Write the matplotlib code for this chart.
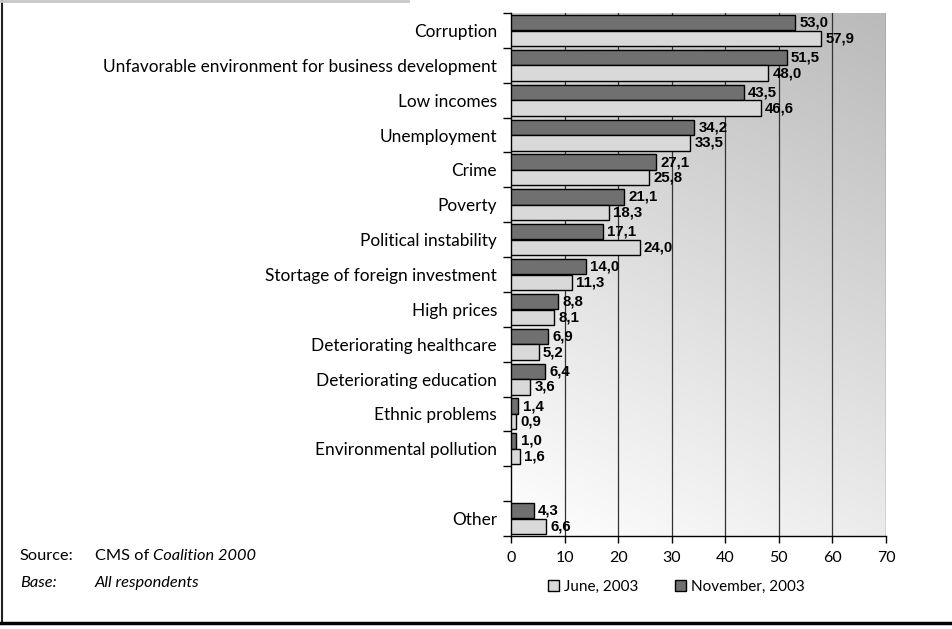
import numpy as np
import matplotlib
matplotlib.use("Agg")
import matplotlib.pyplot as plt
from matplotlib.patches import Patch
from matplotlib.lines import Line2D

# categories, top to bottom (blank slot before "Other")
categories = ["Corruption", "Unfavorable environment for business development",
              "Low incomes", "Unemployment", "Crime", "Poverty",
              "Political instability", "Stortage of foreign investment",
              "High prices", "Deteriorating healthcare", "Deteriorating education",
              "Ethnic problems", "Environmental pollution", "", "Other"]
november = [53.0, 51.5, 43.5, 34.2, 27.1, 21.1, 17.1, 14.0, 8.8, 6.9, 6.4, 1.4, 1.0, None, 4.3]
june = [57.9, 48.0, 46.6, 33.5, 25.8, 18.3, 24.0, 11.3, 8.1, 5.2, 3.6, 0.9, 1.6, None, 6.6]
xticks = [0, 10, 20, 30, 40, 50, 60, 70]

dark = "#707070"
light = "#d9d9d9"
lab_font = "Lato"

fig = plt.figure(figsize=(9.53, 6.29), dpi=100)
ax = fig.add_axes([511 / 953, 1 - 536 / 629, 375 / 953, 523 / 629])

# gradient background (white bottom-left -> gray top-right)
gx, gy = np.meshgrid(np.linspace(0, 1, 200), np.linspace(1, 0, 200))
shade = 1 - 0.27 * (0.72 * gy + 0.28 * gx)
ax.imshow(np.dstack([shade] * 3), extent=[0, 1, 0, 1], transform=ax.transAxes,
          aspect="auto", zorder=0)

y = np.arange(len(categories))
h = 0.44
for i in range(len(categories)):
    if november[i] is None:
        continue
    ax.barh(y[i] - 0.225, november[i], height=h, color=dark, edgecolor="black",
            linewidth=1, zorder=3)
    ax.barh(y[i] + 0.225, june[i], height=h, color=light, edgecolor="black",
            linewidth=1, zorder=3)
    ax.annotate(f"{november[i]:.1f}".replace(".", ","), (november[i], y[i] - 0.225),
                xytext=(3, 0), textcoords="offset points", va="center", ha="left",
                fontsize=10.8, fontweight="bold", family="Liberation Sans", zorder=4)
    ax.annotate(f"{june[i]:.1f}".replace(".", ","), (june[i], y[i] + 0.225),
                xytext=(3, 0), textcoords="offset points", va="center", ha="left",
                fontsize=10.8, fontweight="bold", family="Liberation Sans", zorder=4)

ax.set_xlim(0, 70)
ax.set_ylim(len(categories) - 0.5, -0.5)
for xv in xticks[1:]:
    ax.axvline(xv, color="#333333", linewidth=0.9, zorder=1)

ax.set_xticks(xticks)
ax.set_xticklabels([str(v) for v in xticks], fontsize=11.5, family=lab_font)
ax.tick_params(axis="x", direction="out", length=5, width=1, pad=6)

ax.set_yticks(y)
ax.set_yticklabels(categories, fontsize=12.4, family=lab_font)
ax.tick_params(axis="y", which="major", length=0, pad=10)
ax.set_yticks(np.arange(-0.5, len(categories)), minor=True)
ax.tick_params(axis="y", which="minor", direction="out", length=6, width=1)

for s in ["top", "right"]:
    ax.spines[s].set_visible(False)
ax.spines["left"].set_linewidth(1)
ax.spines["bottom"].set_linewidth(1)

handles = [Patch(facecolor=light, edgecolor="black", label="June, 2003"),
           Patch(facecolor=dark, edgecolor="black", label="November, 2003")]
fig.legend(handles=handles, loc="center left", bbox_to_anchor=(534 / 953, 1 - 587 / 629),
           ncol=2, frameon=False, handlelength=0.75, handleheight=0.75,
           handletextpad=0.3, columnspacing=2.4, prop={"family": lab_font, "size": 11})

# source notes
fs = 11.8
t = fig.text(95 / 953, 1 - 556 / 629, "CMS of ", fontsize=fs, family=lab_font, va="center")
fig.text(20 / 953, 1 - 556 / 629, "Source:", fontsize=fs, family=lab_font, va="center")
fig.canvas.draw()
bb = t.get_window_extent()
fig.text(bb.x1 / 953, 1 - 556 / 629, "Coalition 2000", fontsize=fs, family=lab_font,
         style="italic", va="center")
fig.text(20 / 953, 1 - 583 / 629, "Base:", fontsize=fs, family=lab_font, style="italic",
         va="center")
fig.text(95 / 953, 1 - 583 / 629, "All respondents", fontsize=fs, family=lab_font,
         style="italic", va="center")

# frame lines
fig.add_artist(Line2D([2 / 953, 2 / 953], [1 - 624 / 629, 1], color="#222222",
                      linewidth=1.5, transform=fig.transFigure))
fig.add_artist(Line2D([0, 1], [1 - 623 / 629, 1 - 623 / 629], color="black",
                      linewidth=2.5, transform=fig.transFigure))
fig.add_artist(Line2D([0, 408 / 953], [1 - 1 / 629, 1 - 1 / 629], color="#c8c8c8",
                      linewidth=2, transform=fig.transFigure))

fig.savefig("out.png", dpi=100)
